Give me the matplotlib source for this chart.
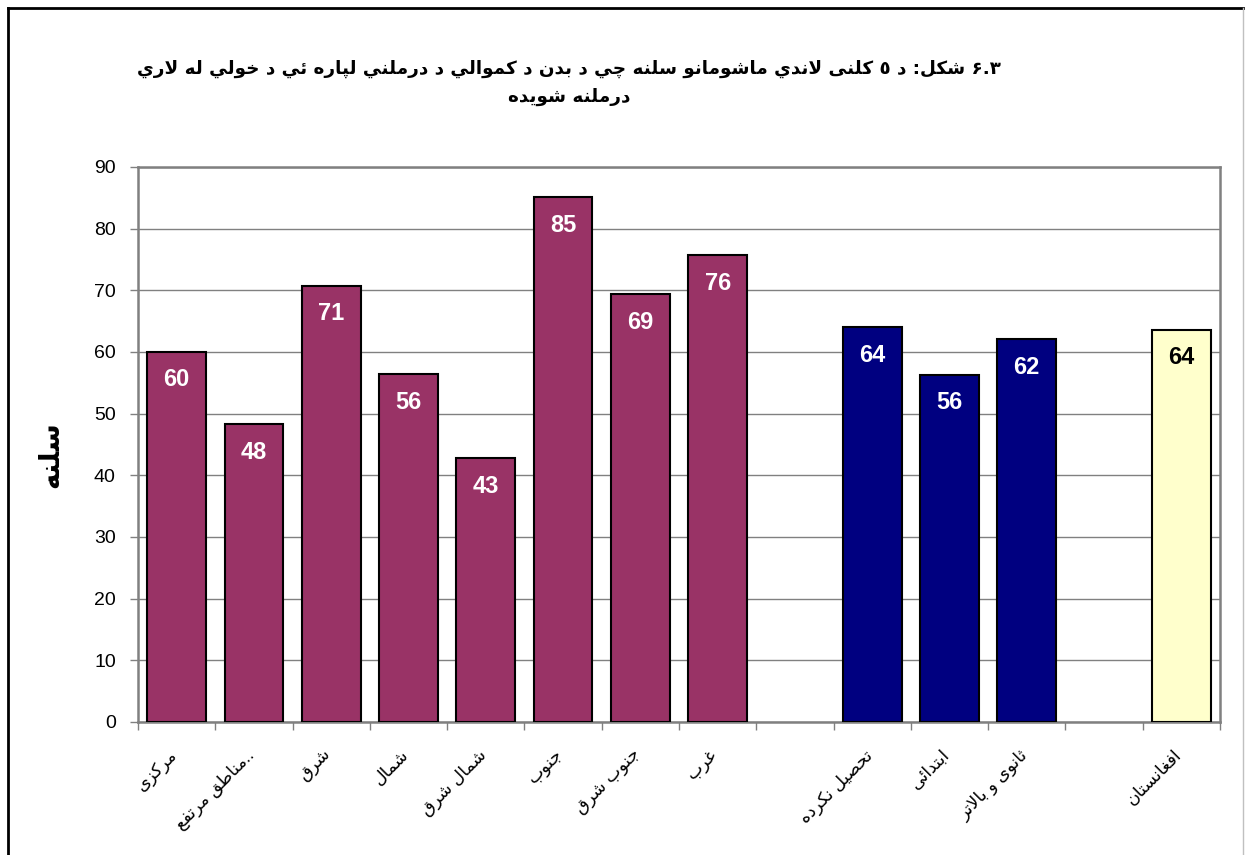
import re
import matplotlib
matplotlib.use('Agg')
import matplotlib.pyplot as plt
from matplotlib.lines import Line2D

plt.rcParams['font.family'] = ['Liberation Sans', 'DejaVu Sans']

# data
regions = ['مرکزی', 'مناطق مرتفع..', 'شرق', 'شمال', 'شمال شرق', 'جنوب', 'جنوب شرق', 'غرب']
region_vals = [60.0, 48.3, 70.7, 56.4, 42.8, 85.1, 69.4, 75.7]
education = ['تحصیل نکرده', 'ابتدائی', 'ثانوی و بالاتر']
education_vals = [64.0, 56.3, 62.1]
national = ['افغانستان']
national_vals = [63.6]

title_lines = ['۶.۳ شکل: د ٥ کلنی لاندي ماشومانو سلنه چي د بدن د کموالي د درملني لپاره ئي د خولي له لاري',
               'درملنه شویده']
ylabel = 'سلنه'

# no text shaping in matplotlib -> pick arabic presentation forms by hand
DUAL = {'ئ': 0xFE89, 'ب': 0xFE8F, 'ت': 0xFE95, 'ث': 0xFE99, 'ج': 0xFE9D, 'ح': 0xFEA1,
        'خ': 0xFEA5, 'س': 0xFEB1, 'ش': 0xFEB5, 'ص': 0xFEB9, 'ض': 0xFEBD, 'ط': 0xFEC1,
        'ظ': 0xFEC5, 'ع': 0xFEC9, 'غ': 0xFECD, 'ف': 0xFED1, 'ق': 0xFED5, 'ك': 0xFED9,
        'ل': 0xFEDD, 'م': 0xFEE1, 'ن': 0xFEE5, 'ه': 0xFEE9, 'ي': 0xFEF1, 'پ': 0xFB56,
        'چ': 0xFB7A, 'ک': 0xFB8E, 'گ': 0xFB92, 'ی': 0xFBFC}
RIGHT = {'آ': 0xFE81, 'أ': 0xFE83, 'ؤ': 0xFE85, 'إ': 0xFE87, 'ا': 0xFE8D, 'ة': 0xFE93,
         'د': 0xFEA9, 'ذ': 0xFEAB, 'ر': 0xFEAD, 'ز': 0xFEAF, 'و': 0xFEED, 'ى': 0xFEEF,
         'ژ': 0xFB8A}


def shape(s):
    out = []
    i = 0
    while i < len(s):
        c = s[i]
        back = i > 0 and s[i - 1] in DUAL
        if c == 'ل' and i + 1 < len(s) and s[i + 1] == 'ا':
            out.append(chr(0xFEFC if back else 0xFEFB))
            i += 2
            continue
        nxt = s[i + 1] if i + 1 < len(s) else ' '
        fwd = c in DUAL and (nxt in DUAL or nxt in RIGHT)
        if c in DUAL:
            out.append(chr(DUAL[c] + (3 if back and fwd else 1 if back else 2 if fwd else 0)))
        elif c in RIGHT:
            out.append(chr(RIGHT[c] + (1 if back else 0)))
        else:
            out.append(c)
        i += 1
    return ''.join(out)


def vis(s):
    core = s.rstrip('.')
    tail = s[len(core):]
    v = shape(core)[::-1]
    v = re.sub(r'[0-9۰-۹٠-٩.]+', lambda m: m.group(0)[::-1], v)
    return v + tail


groups = [(regions, region_vals, '#993366', 'white'),
          (education, education_vals, '#000080', 'white'),
          (national, national_vals, '#FFFFCC', 'black')]

fig = plt.figure(figsize=(12.46, 8.55), dpi=100)
ax = fig.add_axes([0.1108, 0.1556, 0.8683, 0.6491])

pos = 0
ticks, ticklabels = [], []
for names, vals, col, tcol in groups:
    xs = list(range(pos, pos + len(vals)))
    bars = ax.bar(xs, vals, width=0.76, color=col, edgecolor='black', linewidth=1.5, zorder=3)
    for b, v in zip(bars, vals):
        ax.annotate(f'{v:.0f}', (b.get_x() + b.get_width() / 2, v), xytext=(0, -28),
                    textcoords='offset pixels', ha='center', va='center',
                    color=tcol, fontsize=17, fontweight='bold', zorder=4)
    ticks += xs
    ticklabels += [vis(n) for n in names]
    pos += len(vals) + 1

ax.set_xlim(-0.5, pos - 1.5)
ax.set_ylim(0, 90)
ax.set_yticks(range(0, 91, 10))
ax.yaxis.grid(True, color='#808080', linewidth=1, zorder=0)
# labels hang a little left of the bar centre, like excel does with slanted text
ax.set_xticks([t - 0.1 for t in ticks])
ax.set_xticklabels(ticklabels, rotation=45, ha='right', va='top', rotation_mode='anchor',
                   fontsize=12.5)
ax.set_xticks([t - 0.5 for t in range(pos)], minor=True)
ax.tick_params(axis='x', which='major', length=0, pad=18)
ax.tick_params(axis='x', which='minor', length=6, color='#808080', width=1)
ax.tick_params(axis='y', length=6, color='#808080', width=1, pad=10, labelsize=14)
for sp in ax.spines.values():
    sp.set_color('#808080')
    sp.set_linewidth(1.8)

fig.text(0.040, 0.468, vis(ylabel), rotation=90, ha='center', va='center',
         fontsize=20, fontweight='bold', family='DejaVu Sans')
fig.text(0.457, 0.9035, '\n'.join(vis(t) for t in title_lines), ha='center', va='center',
         multialignment='center', fontsize=13.2, fontweight='bold', linespacing=1.7,
         family='DejaVu Sans')

# outer chart border
fig.add_artist(Line2D([8 / 1246, 8 / 1246], [0, 1 - 8 / 855], color='black', lw=2))
fig.add_artist(Line2D([8 / 1246, 1243 / 1246], [1 - 8 / 855, 1 - 8 / 855], color='black', lw=2))
fig.add_artist(Line2D([1243 / 1246, 1243 / 1246], [0, 1 - 8 / 855], color='#c0c0c0', lw=1))

fig.savefig('out.png', dpi=100)
